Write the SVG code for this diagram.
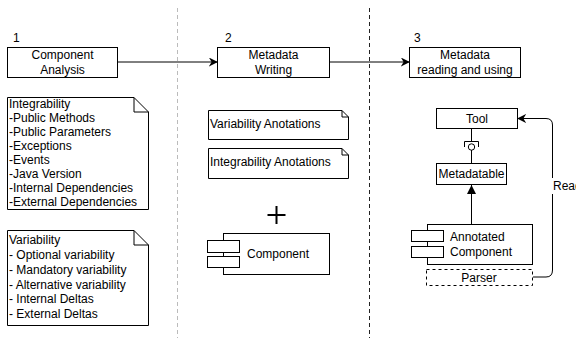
<svg xmlns="http://www.w3.org/2000/svg" width="576" height="338" viewBox="0 0 576 338">
<defs>
<style>
text{font-family:"Liberation Sans",Arial,sans-serif;font-size:12px;fill:#000}
.c{text-anchor:middle}
.box{fill:#fff;stroke:#000;stroke-width:1}
.ln{fill:none;stroke:#000;stroke-width:1}
</style>
<marker id="arr" viewBox="0 0 10 10" refX="9" refY="5" markerWidth="9" markerHeight="9" markerUnits="userSpaceOnUse" orient="auto">
<path d="M0,0 L10,5 L0,10 L3,5 Z" fill="#000"/>
</marker>
<marker id="tri" viewBox="0 0 10 10" refX="10" refY="5" markerWidth="9" markerHeight="9" markerUnits="userSpaceOnUse" orient="auto">
<path d="M0,0 L10,5 L0,10 Z" fill="#000"/>
</marker>
</defs>
<rect width="576" height="338" fill="#fff"/>
<g id="dividers">
<line x1="177.5" y1="8" x2="177.5" y2="338" stroke="#bbb" stroke-dasharray="4,3"/>
<line x1="369.5" y1="8" x2="369.5" y2="338" stroke="#222" stroke-dasharray="4,3"/>
</g>
<g id="connectors">
<line class="ln" x1="117" y1="62" x2="217" y2="62" marker-end="url(#arr)"/>
<line class="ln" x1="329" y1="62" x2="409" y2="62" marker-end="url(#arr)"/>
<line class="ln" x1="471.5" y1="224" x2="471.5" y2="185" marker-end="url(#tri)"/>
<line class="ln" x1="471.5" y1="129" x2="471.5" y2="141"/>
<path class="ln" d="M464.5,147 V141.5 H478.5 V147"/>
<circle cx="471.5" cy="147" r="3.2" fill="#fff" stroke="#000"/>
<line class="ln" x1="471.5" y1="150" x2="471.5" y2="163"/>
<path class="ln" d="M533,277 H546 Q552.5,277 552.5,270 V125 Q552.5,118.5 546,118.5 H518" marker-end="url(#arr)"/>
<rect x="549" y="178" width="30" height="16" fill="#fff"/>
<text x="553" y="190">Read</text>
</g>
<g id="step1">
<text x="13" y="42">1</text>
<rect class="box" x="7.5" y="47.5" width="110" height="30"/>
<text class="c" x="62.5" y="59">Component</text>
<text class="c" x="62.5" y="74">Analysis</text>
</g>
<g id="step2">
<text x="225" y="42">2</text>
<rect class="box" x="217.5" y="47.5" width="112" height="30"/>
<text class="c" x="273.5" y="59">Metadata</text>
<text class="c" x="273.5" y="74">Writing</text>
</g>
<g id="step3">
<text x="414" y="42">3</text>
<rect class="box" x="409.5" y="47.5" width="111" height="30"/>
<text class="c" x="465" y="59">Metadata</text>
<text class="c" x="465" y="74">reading and using</text>
</g>
<g id="integrability">
<path class="box" d="M7.5,97.5 H134 L148.5,112 V209.5 H7.5 Z"/>
<path class="ln" d="M134,97.5 V112 H148.5"/>
<text x="9" y="108">Integrability</text>
<text x="9" y="122">-Public Methods</text>
<text x="9" y="136">-Public Parameters</text>
<text x="9" y="150">-Exceptions</text>
<text x="9" y="164">-Events</text>
<text x="9" y="178">-Java Version</text>
<text x="9" y="192">-Internal Dependencies</text>
<text x="9" y="206">-External Dependencies</text>
</g>
<g id="variability">
<path class="box" d="M7.5,230.5 H134 L148.5,245 V325.5 H7.5 Z"/>
<path class="ln" d="M134,230.5 V245 H148.5"/>
<text x="9" y="244">Variability</text>
<text x="9" y="259">- Optional variability</text>
<text x="9" y="274">- Mandatory variability</text>
<text x="9" y="289">- Alternative variability</text>
<text x="9" y="303">- Internal Deltas</text>
<text x="9" y="318">- External Deltas</text>
</g>
<g id="var-anot">
<path class="box" d="M208.5,110.5 H342 L348.5,117 V139.5 H208.5 Z"/>
<path class="ln" d="M342,110.5 V117 H348.5"/>
<text x="210" y="128">Variability Anotations</text>
</g>
<g id="int-anot">
<path class="box" d="M208.5,148.5 H342 L348.5,155 V178.5 H208.5 Z"/>
<path class="ln" d="M342,148.5 V155 H348.5"/>
<text x="210" y="166">Integrability Anotations</text>
</g>
<g id="plus">
<path d="M276.5,206 V224 M267.5,215 H285.5" stroke="#000" stroke-width="2" fill="none"/>
</g>
<g id="component">
<rect class="box" x="223.5" y="233.5" width="106" height="41"/>
<rect class="box" x="207.5" y="240.5" width="32" height="12"/>
<rect class="box" x="207.5" y="256.5" width="32" height="11"/>
<text x="247" y="258">Component</text>
</g>
<g id="tool">
<rect class="box" x="436.5" y="108.5" width="81" height="20"/>
<text class="c" x="477" y="123">Tool</text>
</g>
<g id="metadatable">
<rect class="box" x="436.5" y="163.5" width="70" height="21"/>
<text class="c" x="471.5" y="178">Metadatable</text>
</g>
<g id="annotated">
<rect class="box" x="427.5" y="224.5" width="105" height="40"/>
<rect class="box" x="411.5" y="230.5" width="32" height="11"/>
<rect class="box" x="411.5" y="246.5" width="32" height="11"/>
<text x="450" y="241">Annotated</text>
<text x="450" y="256">Component</text>
</g>
<g id="parser">
<rect x="426.5" y="269.5" width="106" height="16" fill="#fff" stroke="#000" stroke-dasharray="3,3"/>
<text class="c" x="479" y="282">Parser</text>
</g>
</svg>
